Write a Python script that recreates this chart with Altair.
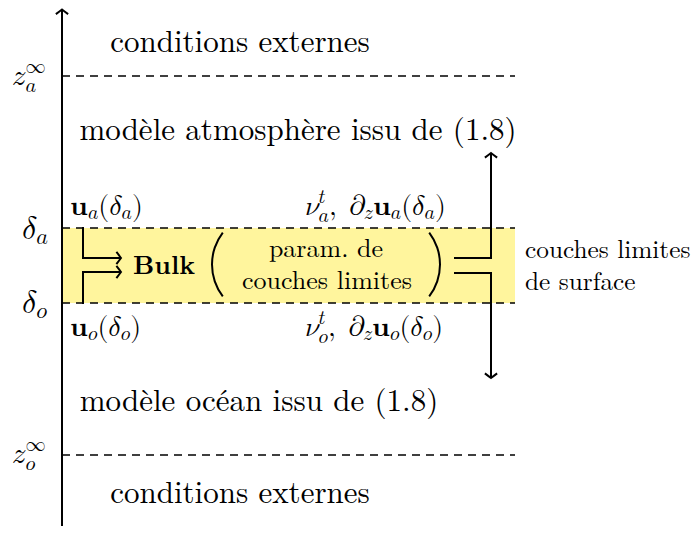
import altair as alt
import pandas as pd

FONT = "Latin Modern Roman"
MATH = "'Latin Modern Math', 'Latin Modern Roman', 'DejaVu Serif', serif"
BIG, MED = 31, 26
MSZ = 28

# ---- diagram content -------------------------------------------------------
# horizontal dashed levels (z_a^inf, delta_a, delta_o, z_o^inf)
level_y = [76, 228, 303, 455]
x_axis, x_end = 62, 515

# yellow surface boundary-layer band
band_top, band_bot = 228, 303

# solid segments: axis + connectors (x, y, x2, y2)
segments = [
    (62, 526, 62, 11),
    (83, 228, 83, 258), (83, 258, 119, 258),
    (83, 303, 83, 272), (83, 272, 119, 272),
    (455, 258, 491, 258), (491, 258, 491, 155),
    (455, 273, 491, 273), (491, 273, 491, 376),
]
# arrow tips (x, y, direction angle)
tips = [(62, 9.5, 0), (121, 258, 90), (121, 272, 90), (491, 153, 0), (491, 378, 180)]

# plain texts: text, x, baseline y, size, align
plain = [
    ("conditions externes", 240, 52, BIG, "center"),
    ("modèle atmosphère issu de (1.8)", 298, 140, BIG, "center"),
    ("modèle océan issu de (1.8)", 259, 411, BIG, "center"),
    ("conditions externes", 240, 503, BIG, "center"),
    ("param. de", 326, 257, MED, "center"),
    ("couches limites", 327, 289, MED, "center"),
    ("couches limites", 525, 258, 25.3, "left"),
    ("de surface", 525, 290, 25.3, "left"),
]
bold_texts = [("Bulk", 133, 274, MED)]

# big parentheses: centre x, centre y, radius, start/end angle (deg)
parens = [(264.5, 264.5, 53.5, 232.6, 307.4), (387.5, 264.5, 53.5, 52.6, 127.4)]

# math labels: (pieces, x, baseline, size)  piece = (text, role, advance)
Z, A, O, T, D, NU, PD, U = "𝑧", "𝑎", "𝑜", "𝑡", "𝛿", "𝜈", "𝜕", "𝐮"
math_labels = [
    ([(Z, "n", 1), ("∞", "sup", 0), (A, "sub2", 1)], 12, 85, 29),
    ([(D, "n", 1), (A, "sub", 1)], 22, 239, 32),
    ([(D, "n", 1), (O, "sub", 1)], 22, 313, 32),
    ([(Z, "n", 1), ("∞", "sup", 0), (O, "sub2", 1)], 12, 463, 29),
    ([(U, "n", 1), (A, "sub", 1), ("(", "n", 1), (D, "n", 1), (A, "sub", 1), (")", "n", 1)], 70, 215, MSZ),
    ([(U, "n", 1), (O, "sub", 1), ("(", "n", 1), (D, "n", 1), (O, "sub", 1), (")", "n", 1)], 70, 336, MSZ),
    ([(NU, "n", 1), (T, "sup", 0), (A, "sub2", 1), (",", "n", 1), (" ", "n", 1), (PD, "n", 1),
      (Z, "sub", 1), (U, "n", 1), (A, "sub", 1), ("(", "n", 1), (D, "n", 1), (A, "sub", 1),
      (")", "n", 1)], 305, 215, MSZ),
    ([(NU, "n", 1), (T, "sup", 0), (O, "sub2", 1), (",", "n", 1), (" ", "n", 1), (PD, "n", 1),
      (Z, "sub", 1), (U, "n", 1), (O, "sub", 1), ("(", "n", 1), (D, "n", 1), (O, "sub", 1),
      (")", "n", 1)], 305, 336, MSZ),
]

# advance widths (em, Computer Modern metrics)
WID = {"(": .389, ")": .389, ",": .278, " ": .45, Z: .465, A: .529, O: .485, T: .361,
       D: .444, NU: .485, PD: .517, "∞": 1.0, U: .639}
DY = {"n": 0, "sub": 0.16, "sub2": 0.25, "sup": -0.43}


def compose():
    rows = []
    for pieces, x0, y0, msz in math_labels:
        x = x0
        for txt, role, adv in pieces:
            size = msz if role == "n" else round(msz * 0.7, 1)
            rows.append(dict(x=x, y=y0 + DY[role] * msz, t=txt, s=size))
            if adv:
                x += WID.get(txt, .5) * size
    return pd.DataFrame(rows)


math_df = compose()

# ---- chart ------------------------------------------------------------------
X = lambda f: alt.X(f, type="quantitative", scale=alt.Scale(domain=[8, 692], nice=False, zero=False), axis=None)
Y = lambda f: alt.Y(f, type="quantitative", scale=alt.Scale(domain=[8, 526], nice=False, zero=False, reverse=True), axis=None)

band = alt.Chart(pd.DataFrame({"x": [x_axis], "x2": [x_end], "y": [band_top], "y2": [band_bot]})).mark_rect(
    color="#fff59d").encode(x=X("x"), x2="x2", y=Y("y"), y2="y2")

dashes = alt.Chart(pd.DataFrame({"x": [x_axis] * 4, "x2": [x_end] * 4, "y": level_y})).mark_rule(
    color="black", strokeWidth=1.5, strokeDash=[8, 6]).encode(x=X("x"), x2="x2", y=Y("y"))

seg_df = pd.DataFrame(segments, columns=["x", "y", "x2", "y2"])
lines = alt.Chart(seg_df).mark_rule(color="black", strokeWidth=2, strokeCap="square").encode(
    x=X("x"), x2="x2", y=Y("y"), y2="y2")

tip_df = pd.DataFrame(tips, columns=["x", "y", "a"])
arrows = alt.Chart(tip_df).mark_point(
    shape="M -1 0.75 Q -0.35 0.25 0 0 Q 0.35 0.25 1 0.75", filled=False, color="black",
    strokeWidth=2, size=150, opacity=1).encode(
    x=X("x"), y=Y("y"), angle=alt.Angle("a:Q", scale=None))

paren_layers = []
for cx, cy, r, a0, a1 in parens:
    paren_layers.append(
        alt.Chart(pd.DataFrame({"x": [cx], "y": [cy]})).mark_arc(
            color="black", outerRadius=r, innerRadius=r - 2.0,
            theta=a0 * 3.14159265 / 180, theta2=a1 * 3.14159265 / 180).encode(
            x=X("x"), y=Y("y")))

plain_df = pd.DataFrame(plain, columns=["t", "x", "y", "s", "al"])
txt_c = alt.Chart(plain_df[plain_df.al == "center"]).mark_text(
    font=FONT, align="center", baseline="alphabetic", color="black").encode(
    x=X("x"), y=Y("y"), text="t:N", size=alt.Size("s:Q", scale=None))
txt_l = alt.Chart(plain_df[plain_df.al == "left"]).mark_text(
    font=FONT, align="left", baseline="alphabetic", color="black").encode(
    x=X("x"), y=Y("y"), text="t:N", size=alt.Size("s:Q", scale=None))
bold_df = pd.DataFrame(bold_texts, columns=["t", "x", "y", "s"])
txt_b = alt.Chart(bold_df).mark_text(
    font=FONT, align="left", baseline="alphabetic", fontWeight="bold", color="black").encode(
    x=X("x"), y=Y("y"), text="t:N", size=alt.Size("s:Q", scale=None))

txt_m = alt.Chart(math_df).mark_text(
    font=MATH, align="left", baseline="alphabetic", color="black").encode(
    x=X("x"), y=Y("y"), text="t:N", size=alt.Size("s:Q", scale=None))

chart = alt.layer(band, dashes, lines, arrows, *paren_layers, txt_c, txt_l, txt_b, txt_m).properties(
    width=684, height=518, padding=0, autosize="none").configure_view(stroke=None)

chart.save("out.html", embed_options={"renderer": "svg", "actions": False})
